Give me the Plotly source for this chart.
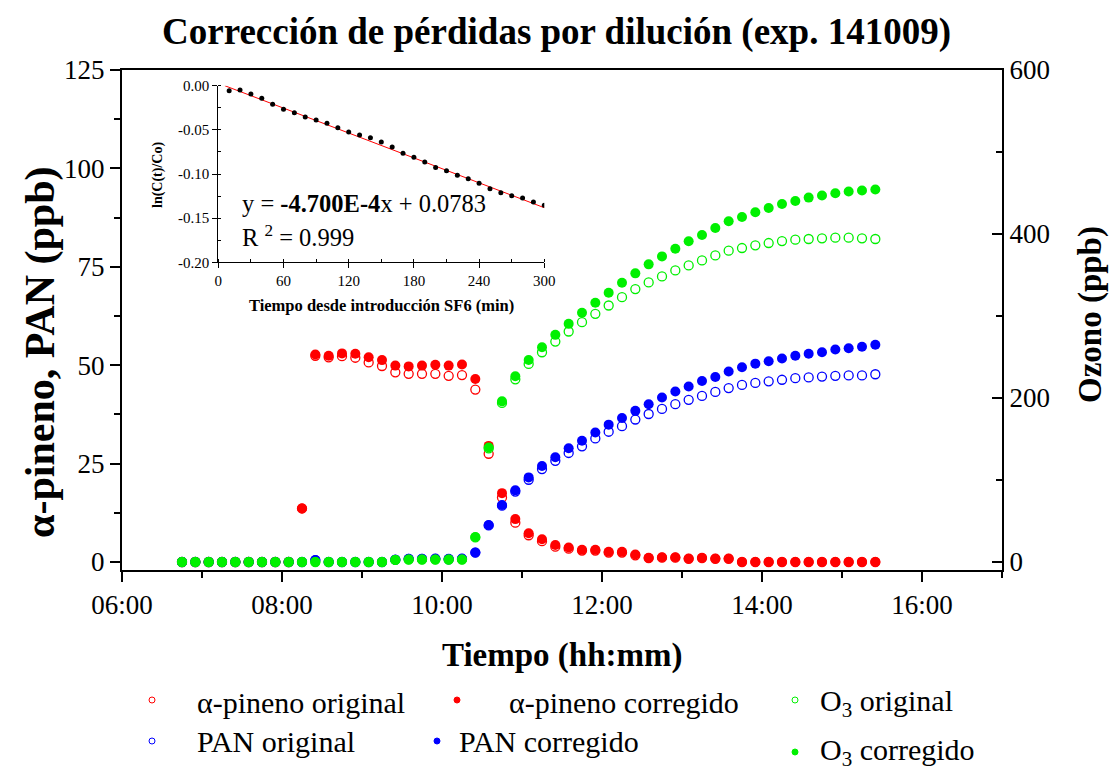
import plotly.graph_objects as go

# ---------------- data ----------------
times_hhmm = ["06:45", "06:55", "07:05", "07:15", "07:25", "07:35", "07:45", "07:55",
              "08:05", "08:15", "08:25", "08:35", "08:45", "08:55", "09:05", "09:15",
              "09:25", "09:35", "09:45", "09:55", "10:05", "10:15", "10:25", "10:35",
              "10:45", "10:55", "11:05", "11:15", "11:25", "11:35", "11:45", "11:55",
              "12:05", "12:15", "12:25", "12:35", "12:45", "12:55", "13:05", "13:15",
              "13:25", "13:35", "13:45", "13:55", "14:05", "14:15", "14:25", "14:35",
              "14:45", "14:55", "15:05", "15:15", "15:25"]
day = "2009-10-14"
times = [f"{day} {t}" for t in times_hhmm]

apin_orig = [0, 0, 0, 0, 0, 0, 0, 0, 0, 13.6,
             52.4, 52.0, 52.3, 51.9, 50.7, 49.8, 48.2, 47.8, 47.8, 47.8, 47.3, 47.5,
             43.8, 27.5, 16.4, 10.0, 6.8, 5.3, 3.9, 3.4, 2.9, 2.9, 2.4, 2.4, 1.7, 1.0,
             1.1, 1.1, 0.8, 1.0, 0.8, 0.8,
             0, 0, 0, 0, 0, 0, 0, 0, 0, 0, 0]
apin_corr = [0, 0, 0, 0, 0, 0, 0, 0, 0, 13.6,
             52.7, 52.4, 53.0, 52.9, 52.0, 51.3, 49.9, 49.7, 49.9, 50.1, 49.9, 50.2,
             46.5, 29.5, 17.5, 10.9, 7.3, 5.8, 4.3, 3.7, 3.1, 3.1, 2.6, 2.6, 1.9, 1.1,
             1.2, 1.2, 0.9, 1.1, 0.9, 0.9,
             0, 0, 0, 0, 0, 0, 0, 0, 0, 0, 0]
pan_orig = [0, 0, 0, 0, 0, 0, 0, 0, 0, 0, 0.5, 0, 0, 0, 0, 0,
            0.6, 0.8, 0.8, 0.8, 0.7, 0.8,
            2.4, 9.3, 14.3, 17.9, 20.9, 23.6, 25.7, 27.7, 29.4, 31.4, 33.1, 34.5,
            36.2, 37.6, 38.9, 40.1, 41.2, 42.2, 43.2, 44.2, 45.0, 45.5, 45.9, 46.3,
            46.7, 46.9, 47.1, 47.3, 47.4, 47.4, 47.7]
pan_corr = [0, 0, 0, 0, 0, 0, 0, 0, 0, 0, 0.5, 0, 0, 0, 0, 0,
            0.6, 0.8, 0.8, 0.9, 0.8, 0.9,
            2.4, 9.4, 14.5, 18.2, 21.5, 24.4, 26.6, 28.9, 30.8, 32.9, 34.9, 36.6,
            38.4, 40.1, 41.8, 43.3, 44.6, 46.0, 47.0, 48.4, 49.5, 50.4, 51.0, 51.7,
            52.4, 52.9, 53.3, 54.0, 54.3, 54.7, 55.2]
o3_orig = [0, 0, 0, 0, 0, 0, 0, 0, 0, 0, 0, 0, 0, 0, 0, 0,
           2.5, 3, 3, 3, 3, 3,
           30.0, 138.5, 194.0, 222.8, 241.6, 255.8, 268.8, 281.1, 292.5, 302.7,
           312.8, 323.0, 332.8, 340.9, 348.3, 355.6, 361.7, 367.8, 373.9, 379.7,
           382.9, 386.2, 389.0, 391.4, 393.1, 393.9, 394.7, 395.5, 395.5, 394.7, 393.9]
o3_corr = [0, 0, 0, 0, 0, 0, 0, 0, 0, 0, 0, 0, 0, 0, 0, 0,
           2.5, 3, 3, 3, 3, 3,
           30.5, 139.7, 195.9, 226.5, 246.4, 261.9, 277.0, 290.4, 303.9, 316.1,
           328.3, 340.6, 352.0, 363.0, 372.7, 382.1, 391.1, 398.8, 407.3, 415.5,
           420.8, 426.5, 431.8, 436.6, 440.3, 444.4, 446.9, 449.7, 451.8, 453.0, 454.2]

# inset: ln(C(t)/Co) vs time since SF6 introduction
inset_t = [10, 20, 30, 40, 50, 60, 70, 80, 90, 100, 110, 120, 130, 140, 150,
           160, 170, 180, 190, 200, 210, 220, 230, 240, 250, 260, 270, 280, 290, 300]
inset_ln = [-0.0057, -0.0049, -0.0094, -0.0143, -0.0211, -0.0268, -0.0306, -0.0355,
            -0.0389, -0.0426, -0.0475, -0.0525, -0.0558, -0.0589, -0.0638, -0.0694,
            -0.0766, -0.0811, -0.0864, -0.0925, -0.0962, -0.1015, -0.1053, -0.1106,
            -0.1166, -0.1211, -0.1245, -0.1272, -0.1317, -0.1355]
fit_t = [6, 300]
fit_ln = [0.0, -0.1382]

inset_yticks = [0.0, -0.05, -0.10, -0.15, -0.20]
inset_yticktext = ["0.00", "-0.05", "-0.10", "-0.15", "-0.20"]
inset_xticks = [0, 60, 120, 180, 240, 300]

left_ticks = [0, 25, 50, 75, 100, 125]
right_ticks = [0, 200, 400, 600]

RED, BLUE, GREEN = "#FF0000", "#0000FF", "#00F000"
FONT = "Liberation Serif"

fig = go.Figure()

def add_series(y, color, filled, axis):
    fig.add_trace(go.Scatter(
        x=times, y=y, mode="markers", yaxis=axis, xaxis="x",
        marker=dict(symbol="circle" if filled else "circle-open",
                    size=10 if filled else 9, color=color,
                    line=dict(width=1.3 if not filled else 0, color=color)),
        showlegend=False, hoverinfo="skip"))

add_series(apin_orig, RED, False, "y")
add_series(apin_corr, RED, True, "y")
add_series(pan_orig, BLUE, False, "y")
add_series(pan_corr, BLUE, True, "y")
add_series(o3_orig, GREEN, False, "y2")
add_series(o3_corr, GREEN, True, "y2")

# inset
fig.add_trace(go.Scatter(x=fit_t, y=fit_ln, mode="lines", xaxis="x2", yaxis="y3",
                         line=dict(color=RED, width=1), showlegend=False, hoverinfo="skip"))
fig.add_trace(go.Scatter(x=inset_t, y=inset_ln, mode="markers", xaxis="x2", yaxis="y3",
                         marker=dict(color="black", size=5), showlegend=False, hoverinfo="skip"))

L, R, T, B = 122, 111, 70, 203
PW, PH = 1113 - L - R, 773 - T - B

def px(xp):
    return (xp - L) / PW

def py(yp):
    return (T + PH - yp) / PH

def tf(size):
    return dict(family=FONT, size=size, color="black")

fig.update_layout(
    width=1113, height=773,
    margin=dict(l=L, r=R, t=T, b=B, pad=0),
    paper_bgcolor="white", plot_bgcolor="white",
    font=dict(family=FONT, color="black", size=24),
    title=dict(text="<b>Corrección de pérdidas por dilución (exp. 141009)</b>",
               x=0.5, xanchor="center", y=1 - 31 / 773, yanchor="middle",
               yref="container", font=tf(37)),
    xaxis=dict(type="date", range=[f"{day} 06:00", f"{day} 17:00"], domain=[0, 1],
               tick0=f"{day} 06:00", dtick=7200000, tickformat="%H:%M",
               ticks="outside", ticklen=10, tickwidth=2, tickcolor="black",
               minor=dict(dtick=3600000, ticks="outside", ticklen=6, tickwidth=2, tickcolor="black"),
               showline=True, linecolor="black", linewidth=2, mirror=True,
               showgrid=False, zeroline=False, tickfont=tf(27)),
    yaxis=dict(range=[-2.03, 125], tickvals=left_ticks, ticks="outside", ticklen=10,
               tickwidth=2, tickcolor="black",
               minor=dict(dtick=12.5, ticks="outside", ticklen=6, tickwidth=2, tickcolor="black"),
               showline=True, linecolor="black", linewidth=2,
               showgrid=False, zeroline=False, tickfont=tf(27)),
    yaxis2=dict(range=[-9.75, 600], overlaying="y", side="right", tickvals=right_ticks,
                ticks="inside", ticklen=10, tickwidth=2, tickcolor="black",
                minor=dict(dtick=100, ticks="inside", ticklen=6, tickwidth=2, tickcolor="black"),
                showline=True, linecolor="black", linewidth=2,
                showgrid=False, zeroline=False, tickfont=tf(27)),
    xaxis2=dict(domain=[px(218.3), px(544.3)], anchor="y3", range=[0, 300],
                tickvals=inset_xticks, ticks="outside", ticklen=5, tickwidth=1,
                tickcolor="black",
                minor=dict(dtick=30, ticks="inside", ticklen=3, tickcolor="black"),
                showline=True, linecolor="black", linewidth=1.2,
                showgrid=False, zeroline=False, tickfont=tf(15)),
    yaxis3=dict(domain=[py(262.3), py(85.7)], anchor="x2", range=[-0.2, 0.0],
                tickvals=inset_yticks, ticktext=inset_yticktext,
                ticks="outside", ticklen=5, tickwidth=1, tickcolor="black",
                minor=dict(dtick=0.025, ticks="inside", ticklen=3, tickcolor="black"),
                showline=True, linecolor="black", linewidth=1.2,
                showgrid=False, zeroline=False, tickfont=tf(15)),
)

ann = []
# axis titles
ann.append(dict(text="<b>Tiempo (hh:mm)</b>", x=0.5, y=py(655), xref="paper", yref="paper",
                showarrow=False, font=tf(33), xanchor="center", yanchor="middle"))
ann.append(dict(text="<b>α-pineno, PAN (ppb)</b>", x=px(40), y=py(352), xref="paper", yref="paper",
                showarrow=False, font=tf(42), textangle=-90, xanchor="center", yanchor="middle"))
ann.append(dict(text="<b>Ozono (ppb)</b>", x=px(1090), y=py(315), xref="paper", yref="paper",
                showarrow=False, font=tf(33), textangle=-90, xanchor="center", yanchor="middle"))
# inset titles
ann.append(dict(text="<b>Tiempo desde introducción SF6 (min)</b>", x=px(381), y=py(305),
                xref="paper", yref="paper", showarrow=False, font=tf(16.5),
                xanchor="center", yanchor="middle"))
ann.append(dict(text="<b>ln(C(t)/Co)</b>", x=px(158), y=py(175), xref="paper", yref="paper",
                showarrow=False, font=tf(14), textangle=-90, xanchor="center", yanchor="middle"))
# equation
ann.append(dict(text="y = <b>-4.700E-4</b>x + 0.0783", x=px(240), y=py(203), xref="paper", yref="paper",
                showarrow=False, font=tf(24.5), xanchor="left", yanchor="middle"))
ann.append(dict(text="R <sup>2</sup> = 0.999", x=px(240), y=py(236), xref="paper", yref="paper",
                showarrow=False, font=tf(24.5), xanchor="left", yanchor="middle"))

# legend (manual)
legend_items = [
    (152, 700, RED, False, 195, 702, "α-pineno original"),
    (457, 700, RED, True, 507, 702, "α-pineno corregido"),
    (795, 700, GREEN, False, 818, 703, "O<sub>3</sub> original"),
    (152, 741, BLUE, False, 195, 741, "PAN original"),
    (437, 741, BLUE, True, 457, 741, "PAN corregido"),
    (795, 752, GREEN, True, 818, 752, "O<sub>3</sub> corregido"),
]
shapes = []
for mx, my, col, filled, tx, ty, label in legend_items:
    shapes.append(dict(type="circle", xref="paper", yref="paper",
                       xsizemode="pixel", ysizemode="pixel",
                       xanchor=px(mx), yanchor=py(my),
                       x0=-3, x1=3, y0=-3, y1=3,
                       line=dict(color=col, width=1),
                       fillcolor=col if filled else "rgba(0,0,0,0)"))
    ann.append(dict(text=label, x=px(tx), y=py(ty), xref="paper", yref="paper",
                    showarrow=False, font=tf(30), xanchor="left", yanchor="middle"))

fig.update_layout(annotations=ann, shapes=shapes)

fig.write_html("out.html")
